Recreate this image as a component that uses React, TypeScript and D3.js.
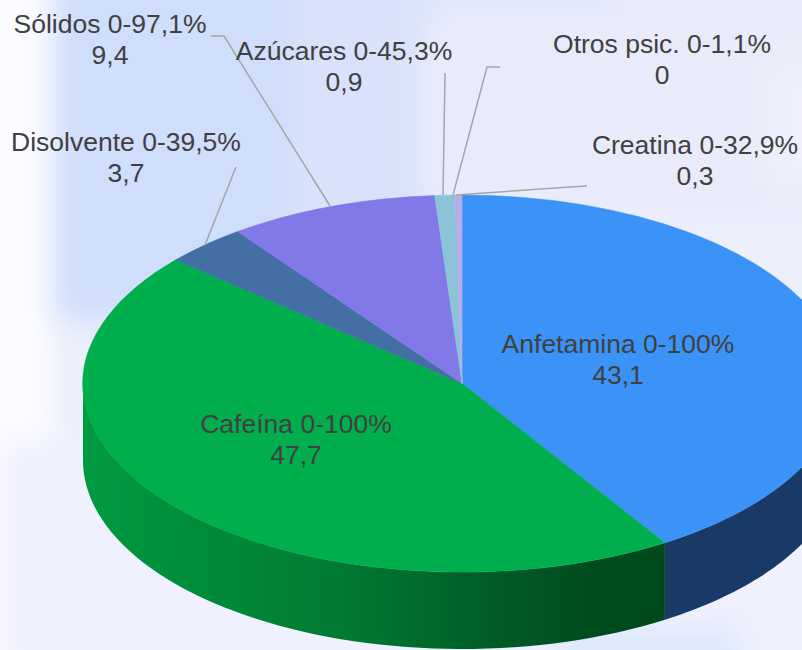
import React from 'react'
import { arc, pie, path, scaleOrdinal, scaleLinear } from 'd3'

const categories = ['Anfetamina', 'Cafeína', 'Disolvente', 'Sólidos', 'Azúcares', 'Otros psic.', 'Creatina']
const ranges = ['0-100%', '0-100%', '0-39,5%', '0-97,1%', '0-45,3%', '0-1,1%', '0-32,9%']
const values = [43.1, 47.7, 3.7, 9.4, 0.9, 0, 0.3]
const valueLabels = ['43,1', '47,7', '3,7', '9,4', '0,9', '0', '0,3']
const topColors = ['#3b93f7', '#00ae4d', '#436fa5', '#8279e8', '#8bc4d8', '#a9a2e0', '#b9aee8']

const width = 802
const height = 650
const cx = 462
const cy = 383.5
const rx = 379
const ry = 188.5
const depth = 77

// label centre / first baseline
const labelX = [618, 296, 126, 110, 344, 662, 695]
const labelY = [353, 433, 151, 33, 60, 53, 154]

// leader lines, only for the small slices
const leaders = [
  { i: 2, pts: [[236, 167], [205, 245]] },
  { i: 3, pts: [[211, 36], [224, 36], [330, 206]] },
  { i: 4, pts: [[445, 73], [443, 195]] },
  { i: 5, pts: [[500, 67], [487, 67], [453, 195]] },
  { i: 6, pts: [[587, 186], [570, 187], [456, 195]] },
]

const bgPatches = [
  { x: -40, y: -40, w: 92, h: 730, c: '#fbfcff' },
  { x: 52, y: -40, w: 240, h: 360, c: '#cfdefa' },
  { x: 292, y: -40, w: 150, h: 290, c: '#d9e2fa' },
  { x: 420, y: 20, w: 200, h: 190, c: '#e8ebfb' },
  { x: 600, y: -40, w: 240, h: 260, c: '#e9ebfa' },
  { x: 420, y: -40, w: 200, h: 50, c: '#dfe6fb' },
  { x: 0, y: 440, w: 802, h: 230, c: '#f0f1fe' },
  { x: 560, y: 625, w: 180, h: 50, c: '#dde8fb' },
  { x: 770, y: 60, w: 60, h: 130, c: '#eff0fb' },
]

const wallStops = [
  { x: 83, c: '#009a41' },
  { x: 210, c: '#008a38' },
  { x: 340, c: '#007a33' },
  { x: 470, c: '#006029' },
  { x: 610, c: '#00491d' },
  { x: 664, c: '#004a1e' },
]

export default function App() {
  const slices = pie<number>().sort(null).value(d => d)(values)
  const sliceArc = arc<any>().innerRadius(0).outerRadius(1)
  const color = scaleOrdinal<string, string>().domain(categories).range(topColors)
  const xPos = (a: number) => cx + rx * Math.sin(a)
  const yPos = (a: number) => cy - ry * Math.cos(a)
  const wallX = scaleLinear().domain([83, 664]).range([0, 1])

  // front wall, only the part between 90 and 270 degrees shows
  const wall = (start: number, end: number) => {
    const a0 = Math.max(start, Math.PI / 2)
    const a1 = Math.min(end, Math.PI * 1.5)
    if (a1 <= a0) return null
    const p = path()
    p.moveTo(xPos(a0), yPos(a0))
    const steps = 60
    for (let s = 1; s <= steps; s++) {
      const a = a0 + ((a1 - a0) * s) / steps
      p.lineTo(xPos(a), yPos(a))
    }
    for (let s = steps; s >= 0; s--) {
      const a = a0 + ((a1 - a0) * s) / steps
      p.lineTo(xPos(a), yPos(a) + depth)
    }
    p.closePath()
    return p.toString()
  }

  return (
    <svg
      width={width}
      height={height}
      style={{ position: 'fixed', left: 0, top: 0, background: '#eceffc' }}
      fontFamily="'Liberation Sans', Arial, sans-serif"
    >
      <defs>
        <filter id="soft" x="-30%" y="-30%" width="160%" height="160%">
          <feGaussianBlur stdDeviation="14" />
        </filter>
        <linearGradient id="greenWall" gradientUnits="userSpaceOnUse" x1={83} x2={664} y1={0} y2={0}>
          {wallStops.map(s => (
            <stop key={s.x} offset={wallX(s.x)} stopColor={s.c} />
          ))}
        </linearGradient>
      </defs>

      <g filter="url(#soft)">
        {bgPatches.map((b, i) => (
          <rect key={i} x={b.x} y={b.y} width={b.w} height={b.h} fill={b.c} />
        ))}
      </g>

      {/* side of the pie */}
      <path d={wall(slices[0].startAngle, slices[0].endAngle) ?? ''} fill="#193a66" />
      <path d={wall(slices[1].startAngle, slices[1].endAngle) ?? ''} fill="url(#greenWall)" />

      {/* top of the pie, stroked a hair so no seams show between slices */}
      <g transform={`translate(${cx},${cy}) scale(${rx},${ry})`}>
        {slices.map((d, i) => (
          <path
            key={categories[i]}
            d={sliceArc(d) ?? ''}
            fill={color(categories[i])}
            stroke={values[i] > 0 ? color(categories[i]) : 'none'}
            strokeWidth={0.6}
            vectorEffect="non-scaling-stroke"
          />
        ))}
      </g>

      {leaders.map(l => (
        <polyline
          key={l.i}
          points={l.pts.map(p => p.join(',')).join(' ')}
          fill="none"
          stroke="#a6a6a6"
          strokeWidth={1.5}
        />
      ))}

      <g fontSize={26.5} fill="#404040" textAnchor="middle">
        {categories.map((c, i) => (
          <text key={c} x={labelX[i]} y={labelY[i]}>
            <tspan x={labelX[i]}>{`${c} ${ranges[i]}`}</tspan>
            <tspan x={labelX[i]} dy={31}>{valueLabels[i]}</tspan>
          </text>
        ))}
      </g>
    </svg>
  )
}
